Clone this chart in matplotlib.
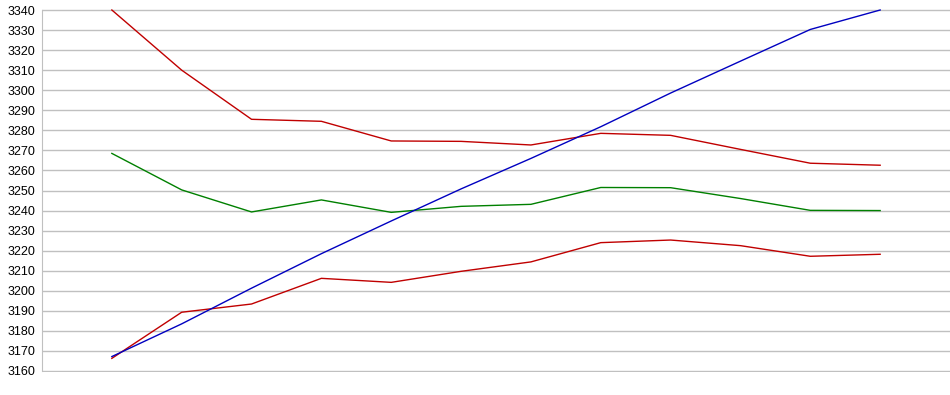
import matplotlib
matplotlib.use("Agg")
import matplotlib.pyplot as plt

categories = list(range(12))
red_upper = [3340, 3310, 3285.5, 3284.5, 3274.7, 3274.5, 3272.7, 3278.5, 3277.5, 3270.5, 3263.6, 3262.6]
green = [3268.5, 3250.3, 3239.3, 3245.3, 3239.1, 3242.1, 3243.1, 3251.5, 3251.4, 3246, 3240.1, 3240]
red_lower = [3166.3, 3189.3, 3193.4, 3206.2, 3204.2, 3209.7, 3214.4, 3224, 3225.3, 3222.5, 3217.2, 3218.2]
blue = [3167.2, 3183.5, 3201.3, 3218.5, 3234.8, 3250.8, 3266, 3281.8, 3298.6, 3314.5, 3330.3, 3340]
y_ticks = list(range(3160, 3341, 10))

plt.rcParams['font.family'] = ['Liberation Sans', 'DejaVu Sans']
fig = plt.figure(figsize=(9.5, 3.95), dpi=100)
ax = fig.add_axes([42/950, 1-372/395, 908/950, 363/395])

ax.plot(categories, red_upper, color='#C00000', lw=1)
ax.plot(categories, green, color='#008000', lw=1)
ax.plot(categories, red_lower, color='#C00000', lw=1)
ax.plot(categories, blue, color='#0000C0', lw=1)

ax.set_xlim(-1, 12)
ax.set_ylim(3159.5, 3340.5)
ax.set_yticks(y_ticks)
ax.set_yticklabels([str(v) for v in y_ticks], fontsize=9)
ax.set_xticks([])
ax.grid(axis='y', color='#C0C0C0', lw=1)
ax.set_axisbelow(True)
for s in ['top', 'right', 'bottom']:
    ax.spines[s].set_visible(False)
ax.spines['left'].set_color('#C0C0C0')
ax.spines['left'].set_bounds(3160, 3340)
ax.tick_params(axis='y', length=0, pad=5)

fig.savefig('out.png', dpi=100)
